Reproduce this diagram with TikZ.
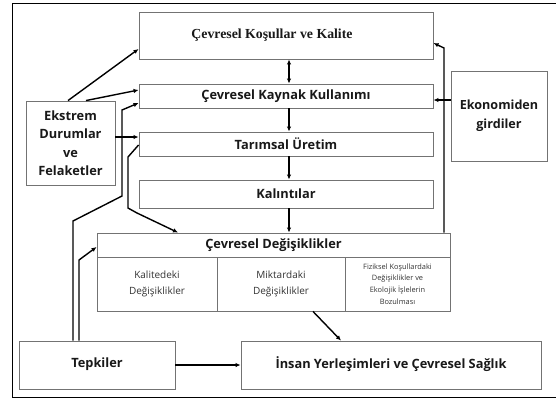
\documentclass[tikz,border=0pt]{standalone}
\usepackage{fontspec}
\setmainfont{Open Sans}
\newfontfamily\serifbold{Liberation Serif}
\usetikzlibrary{arrows.meta}
\begin{document}
\begin{tikzpicture}[x=1pt,y=-1pt,
  box/.style={draw=black!55, line width=0.9pt, fill=white, inner sep=1pt, align=center, font=\bfseries\fontsize{12.8}{18.5}\selectfont, text=black!90},
  cell/.style={draw=black!55, line width=0.9pt, inner sep=1pt, align=center, text=black!80},
  arr/.style={line width=1.4pt, -{Latex[length=5pt,width=4.5pt]}},
  darr/.style={line width=1.4pt, {Latex[length=5pt,width=4.5pt]}-{Latex[length=5pt,width=4.5pt]}}]
\useasboundingbox (0,0) rectangle (556,400);
\draw[line width=0.9pt] (560,3) -- (12.5,3) -- (12.5,397.5) -- (560,397.5);
% boxes
\node[box, minimum width=294, minimum height=47, font=\serifbold\bfseries\fontsize{13.8}{16}\selectfont] (top) at (286,35.5) {Çevresel Koşullar ve Kalite\hspace*{28pt}};
\node[box, minimum width=294, minimum height=24] (kay) at (286,96) {Çevresel Kaynak Kullanımı};
\node[box, minimum width=294, minimum height=24] (tar) at (286,144) {Tarımsal Üretim};
\node[box, minimum width=294, minimum height=28] (kal) at (286,194) {Kalıntılar};
\node[box, minimum width=353, minimum height=24] (deg) at (273.5,245) {Çevresel Değişiklikler};
\node[cell, minimum width=120, minimum height=54, font=\fontsize{10}{16}\selectfont] (c1) at (157,284) {Kalitedeki\\Değişiklikler};
\node[cell, minimum width=128, minimum height=54, font=\fontsize{10}{16}\selectfont] (c2) at (281,284) {Miktardaki\\Değişiklikler};
\node[cell, minimum width=105, minimum height=54, font=\fontsize{7.4}{11.6}\selectfont] (c3) at (397.5,284) {Fiziksel Koşullardaki\\Değişiklikler ve\\Ekolojik İşlelerin\\Bozulması};
\node[box, minimum width=89, minimum height=84] (ek) at (70.5,143) {Ekstrem\\Durumlar\\ve\\Felaketler};
\node[box, minimum width=96, minimum height=90, font=\bfseries\fontsize{12.6}{19}\selectfont] (eko) at (499,116) {Ekonomiden\\girdiler};
\node[box, minimum width=156, minimum height=48] (tep) at (97,365) {\raisebox{5pt}{Tepkiler}};
\node[box, minimum width=300, minimum height=48] (ins) at (391,365) {\raisebox{5pt}{İnsan Yerleşimleri ve Çevresel Sağlık}};
% central vertical arrows
\draw[darr] ([xshift=3]top.south) -- ([xshift=3]kay.north);
\draw[arr] ([xshift=3]kay.south) -- ([xshift=3]tar.north);
\draw[arr] ([xshift=3]tar.south) -- ([xshift=3]kal.north);
\draw[arr] ([xshift=3]kal.south) -- ([xshift=15.5]deg.north);
% Ekstrem arrows
\draw[arr] ([xshift=-2.5]ek.north) -- ([yshift=-13.5]top.west);
\draw[arr] ([xshift=15.5]ek.north) -- ([yshift=6]kay.west);
\draw[arr] ([yshift=6]ek.east) -- ([yshift=7]tar.west);
% Tepkiler arrows
\coordinate (t1) at (73,221);
\coordinate (t2) at (122,196);
\coordinate (t3) at (122,110);
\draw[arr] ([xshift=-24]tep.north) -- (t1) -- (t2) -- (t3) -- ([yshift=-7]kay.west);
\coordinate (t4) at (79,260);
\draw[arr] ([xshift=-18]tep.north) -- (t4) -- ([yshift=-2]deg.west);
\draw[arr] (tep.east) -- (ins.west);
% Tarimsal to Degisiklikler
\coordinate (r1) at (128,157);
\coordinate (r2) at (128,208);
\coordinate (r3) at (137,213);
\draw[arr] ([yshift=-1]tar.west) -- (r1) -- (r2) -- (r3) -- ([xshift=-95.5]deg.north);
% Ekonomiden
\draw[arr] ([yshift=16]eko.west) -- ([yshift=-4]kay.east);
\coordinate (e1) at (444,48);
\draw[arr] ([xshift=170.5]deg.north) -- (e1) -- ([yshift=-7.5]top.east);
% Miktardaki to Insan
\draw[arr] ([xshift=32]c2.south) -- ([xshift=-50]ins.north);
\end{tikzpicture}
\end{document}
